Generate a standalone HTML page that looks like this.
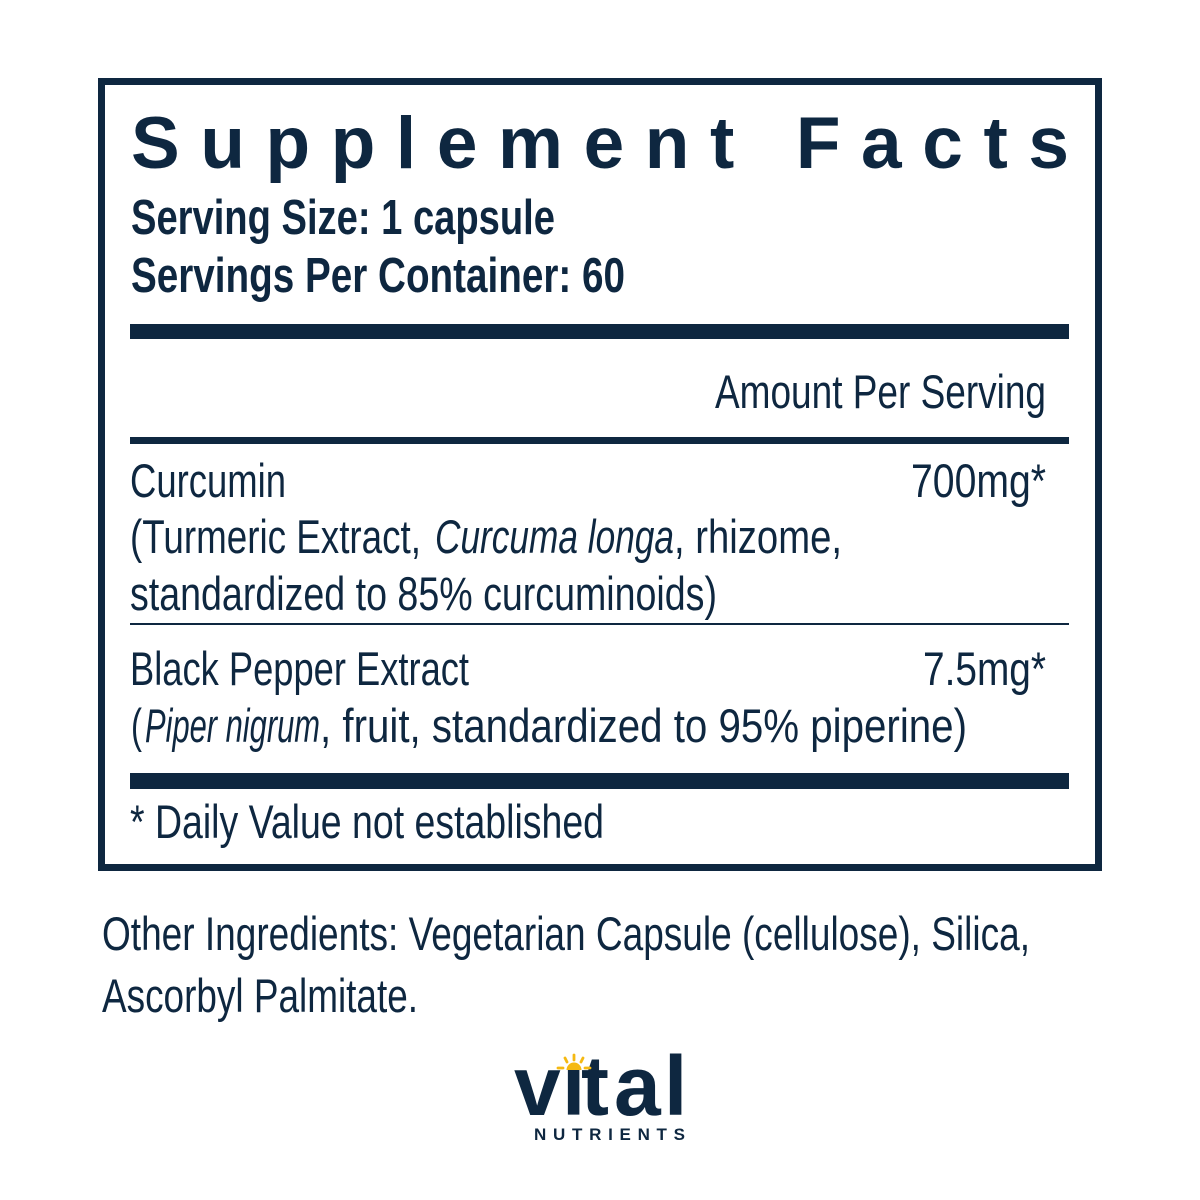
<!DOCTYPE html>
<html>
<head>
<meta charset="utf-8">
<style>
  html,body{margin:0;padding:0;background:#ffffff;}
  body{width:1200px;height:1200px;overflow:hidden;}
  svg{display:block;}
  .c{font-family:"Liberation Sans Narrow","Liberation Sans",sans-serif;fill:#0e2740;}
  .h{font-family:"Liberation Sans",sans-serif;fill:#0e2740;font-weight:bold;}
</style>
</head>
<body>
<svg width="1200" height="1200" viewBox="0 0 1200 1200" xmlns="http://www.w3.org/2000/svg">
  <rect x="0" y="0" width="1200" height="1200" fill="#ffffff"/>
  <!-- Box -->
  <rect x="101.5" y="81.5" width="997" height="786" fill="none" stroke="#0e2740" stroke-width="7"/>

  <!-- Title -->
  <text class="h" x="131" y="168" font-size="73" textLength="938" lengthAdjust="spacing">Supplement Facts</text>

  <text class="c" x="131" y="234" font-size="49" font-weight="bold" textLength="424" lengthAdjust="spacingAndGlyphs">Serving Size: 1 capsule</text>
  <text class="c" x="131" y="292" font-size="49" font-weight="bold" textLength="494" lengthAdjust="spacingAndGlyphs">Servings Per Container: 60</text>

  <rect x="130" y="324" width="939" height="15" fill="#0e2740"/>

  <text class="c" x="715" y="408" font-size="47" textLength="331" lengthAdjust="spacingAndGlyphs">Amount Per Serving</text>

  <rect x="130" y="437" width="939" height="7" fill="#0e2740"/>

  <text class="c" x="130" y="497" font-size="47" textLength="156" lengthAdjust="spacingAndGlyphs">Curcumin</text>
  <text class="c" x="911" y="497" font-size="47" textLength="135" lengthAdjust="spacingAndGlyphs">700mg*</text>

  <text class="c" x="130" y="553" font-size="47" textLength="291" lengthAdjust="spacingAndGlyphs">(Turmeric Extract,</text>
  <text class="c" x="435" y="553" font-size="47" font-style="italic" textLength="239" lengthAdjust="spacingAndGlyphs">Curcuma longa</text>
  <text class="c" x="674" y="553" font-size="47" textLength="168" lengthAdjust="spacingAndGlyphs">, rhizome,</text>

  <text class="c" x="130" y="610" font-size="47" textLength="587" lengthAdjust="spacingAndGlyphs">standardized to 85% curcuminoids)</text>

  <rect x="130" y="623" width="939" height="2" fill="#0e2740"/>

  <text class="c" x="130" y="685" font-size="47" textLength="339" lengthAdjust="spacingAndGlyphs">Black Pepper Extract</text>
  <text class="c" x="923" y="685" font-size="47" textLength="123" lengthAdjust="spacingAndGlyphs">7.5mg*</text>

  <text class="c" x="131" y="742" font-size="47" textLength="11" lengthAdjust="spacingAndGlyphs">(</text>
  <text class="c" x="145" y="742" font-size="47" font-style="italic" textLength="175" lengthAdjust="spacingAndGlyphs">Piper nigrum</text>
  <text class="c" x="320" y="742" font-size="47" textLength="647" lengthAdjust="spacingAndGlyphs">, fruit, standardized to 95% piperine)</text>

  <rect x="130" y="773" width="939" height="16" fill="#0e2740"/>

  <text class="c" x="130" y="838" font-size="47" textLength="474" lengthAdjust="spacingAndGlyphs">* Daily Value not established</text>

  <!-- Other ingredients -->
  <text class="c" x="102" y="950" font-size="47" textLength="928" lengthAdjust="spacingAndGlyphs">Other Ingredients: Vegetarian Capsule (cellulose), Silica,</text>
  <text class="c" x="102" y="1012" font-size="47" textLength="316" lengthAdjust="spacingAndGlyphs">Ascorbyl Palmitate.</text>

  <!-- Logo -->
  <g class="h" font-size="84" font-weight="bold">
    <text class="h" x="514" y="1115" font-size="84">v</text>
    <text class="h" x="562" y="1115" font-size="84">i</text>
    <text class="h" x="581" y="1115" font-size="84">t</text>
    <text class="h" x="614" y="1115" font-size="84">a</text>
    <text class="h" x="664" y="1115" font-size="84">l</text>
  </g>
  <!-- cover i dot -->
  <rect x="563" y="1046" width="19" height="24" fill="#ffffff"/>
  <!-- sun -->
  <path d="M566.5 1070 A7.5 7.5 0 0 1 581.5 1070 Z" fill="#f5b912"/>
  <g stroke="#f5b912" stroke-width="2.8" stroke-linecap="round">
    <line x1="574" y1="1055" x2="574" y2="1060"/>
    <line x1="565" y1="1058" x2="567" y2="1062"/>
    <line x1="583" y1="1058" x2="581" y2="1062"/>
    <line x1="558" y1="1068" x2="563" y2="1068"/>
    <line x1="585" y1="1068" x2="590" y2="1068"/>
  </g>
  <text class="h" x="534" y="1140" font-size="17" textLength="151" lengthAdjust="spacing">NUTRIENTS</text>
</svg>
</body>
</html>
